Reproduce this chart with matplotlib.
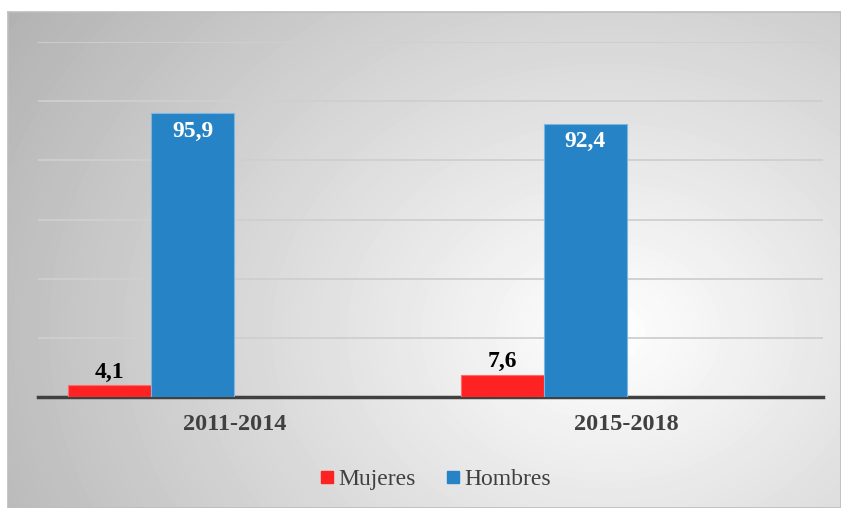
import numpy as np
from matplotlib import pyplot as plt
from matplotlib.lines import Line2D

categories = ["2011-2014", "2015-2018"]
mujeres = [4.1, 7.6]
hombres = [95.9, 92.4]
mujeres_labels = ["4,1", "7,6"]
hombres_labels = ["95,9", "92,4"]

red = "#FF2222"
blue = "#2683C6"
serif = ["Liberation Serif", "DejaVu Serif"]

W, H = 841, 508
fig = plt.figure(figsize=(W / 100, H / 100), dpi=100)

# radial grey background of the chart box
bg = fig.add_axes([8 / W, 0, (W - 8) / W, (H - 12) / H])
yy, xx = np.mgrid[0:496, 0:833]
r = np.hypot(xx - 600, (yy - 320) * 1.25)
shade = np.clip(1.0 - 0.26 * r / 620, 0, 1)
bg.imshow(shade, cmap="gray", vmin=0, vmax=1, aspect="auto", interpolation="bilinear")
bg.set_xticks([])
bg.set_yticks([])
for s in bg.spines.values():
    s.set_color("#BDBDBD")
    s.set_linewidth(1.2)
bg.set_zorder(0)

ax = fig.add_axes([38 / W, 111 / H, 785 / W, 355 / H])
ax.set_zorder(1)
ax.patch.set_alpha(0)

x = np.arange(len(categories))
w = 0.2115
ax.bar(x - 1.5 * w, mujeres, w, color=red, edgecolor="#FF6B6B", linewidth=0.8, zorder=3)
ax.bar(x - 0.5 * w, hombres, w, color=blue, edgecolor="#7DB6E3", linewidth=0.8, zorder=3)

for i in range(len(categories)):
    ax.text(x[i] - 1.5 * w, mujeres[i] + 0.8, mujeres_labels[i], ha="center", va="bottom",
            fontsize=17, fontweight="bold", family=serif, color="black", zorder=4)
    ax.text(x[i] - 0.5 * w, hombres[i] - 2.5, hombres_labels[i], ha="center", va="top",
            fontsize=17, fontweight="bold", family=serif, color="white", zorder=4)

ax.set_xlim(-0.5, 1.5)
ax.set_ylim(0, 120)
ax.set_yticks(np.arange(20, 121, 20))
ax.set_yticklabels([])
ax.tick_params(axis="y", length=0)
ax.grid(axis="y", color="#CFCFCF", linewidth=1.3, zorder=0)
ax.set_xticks(x)
ax.set_xticklabels(categories, fontsize=17.5, fontweight="bold", family=serif, color="#404040")
ax.tick_params(axis="x", length=0, pad=12)
for s in ["top", "right", "left"]:
    ax.spines[s].set_visible(False)
ax.spines["bottom"].set_color("#404040")
ax.spines["bottom"].set_linewidth(2.5)

handles = [Line2D([], [], marker="s", linestyle="", markersize=9, color=red),
           Line2D([], [], marker="s", linestyle="", markersize=9, color=blue)]
fig.legend(handles, ["Mujeres", "Hombres"], loc="center", bbox_to_anchor=(0.517, 29 / H),
           ncol=2, frameon=False, handlelength=0.7, handletextpad=0.15, columnspacing=1.2,
           prop={"family": serif, "size": 17})
for t in fig.legends[0].get_texts():
    t.set_color("#404040")

plt.savefig("out.png", dpi=100)
